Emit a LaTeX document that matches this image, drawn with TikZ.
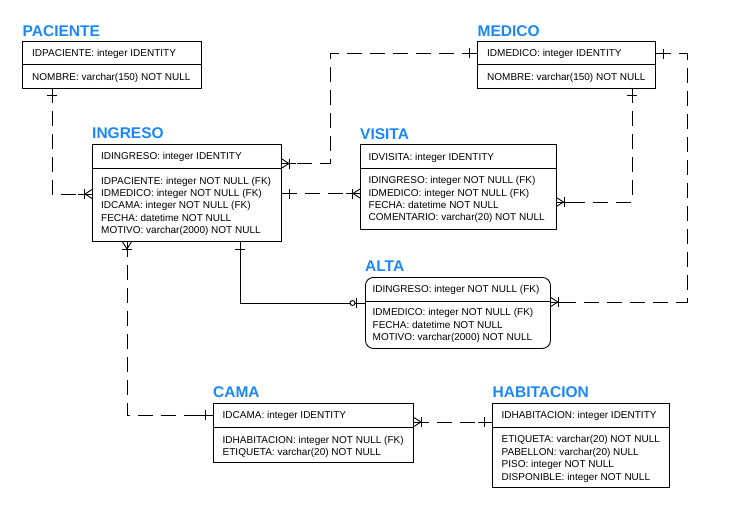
\documentclass[tikz,border=0pt]{standalone}
\usepackage{fontspec}
\setmainfont{Liberation Sans}
\usetikzlibrary{calc}
\definecolor{ttlblue}{RGB}{25,135,250}
\begin{document}
\begin{tikzpicture}[x=1pt,y=-1pt,
  ent/.style={draw, line width=0.9pt, anchor=north west, inner sep=0pt},
  sep/.style={line width=0.9pt},
  fld/.style={anchor=base west, inner sep=0pt, font=\fontsize{10}{12}\selectfont},
  ttl/.style={anchor=base west, inner sep=0pt, text=ttlblue, font=\bfseries\fontsize{15.5}{18}\selectfont},
  rel/.style={line width=0.9pt, dash pattern=on 15pt off 8pt},
  idrel/.style={line width=0.9pt},
  pics/one/.style={code={\draw[line width=0.9pt] (0,0) -- (14,0); \draw[line width=0.9pt] (7.5,-5) -- (7.5,5);}},
  pics/many/.style={code={\draw[line width=0.9pt] (0,0) -- (14,0); \draw[line width=0.9pt] (0,-4.5) -- (7,0) -- (0,4.5); \draw[line width=0.9pt] (8,-5) -- (8,5);}},
  pics/zeroone/.style={code={\draw[line width=0.9pt] (0,0) -- (16,0); \draw[line width=0.9pt] (9,-5) -- (9,5); \draw[line width=0.9pt, fill=white] (12.5,0) circle (2.5pt);}},
]
\useasboundingbox (0,0) rectangle (750,520);

% ---------- PACIENTE
\node[ttl] (tpac) at (22.5,36.7) {PACIENTE};
\node[ent, minimum width=179pt, minimum height=47pt] (pac) at (22,40.5) {};
\draw[sep] ($(pac.north west)+(0,23.5)$) -- ($(pac.north east)+(0,23.5)$);
\node[fld] (pac1) at (32,56.5) {IDPACIENTE: integer IDENTITY};
\node[fld] (pac2) at (32,80.5) {NOMBRE: varchar(150) NOT NULL};

% ---------- MEDICO
\node[ttl] (tmed) at (477.5,36.7) {MEDICO};
\node[ent, minimum width=178pt, minimum height=47pt] (med) at (477,40.5) {};
\draw[sep] ($(med.north west)+(0,23.5)$) -- ($(med.north east)+(0,23.5)$);
\node[fld] (med1) at (487,56.5) {IDMEDICO: integer IDENTITY};
\node[fld] (med2) at (487,80.5) {NOMBRE: varchar(150) NOT NULL};

% ---------- INGRESO
\node[ttl] (ting) at (92,138.4) {INGRESO};
\node[ent, minimum width=189pt, minimum height=97pt] (ing) at (92,144) {};
\draw[sep] ($(ing.north west)+(0,24)$) -- ($(ing.north east)+(0,24)$);
\node[fld] (ing1) at (101,159.8) {IDINGRESO: integer IDENTITY};
\node[fld] (ing2) at (101,184.3) {IDPACIENTE: integer NOT NULL (FK)};
\node[fld] (ing3) at (101,196.6) {IDMEDICO: integer NOT NULL (FK)};
\node[fld] (ing4) at (101,208.9) {IDCAMA: integer NOT NULL (FK)};
\node[fld] (ing5) at (101,221.2) {FECHA: datetime NOT NULL};
\node[fld] (ing6) at (101,233.5) {MOTIVO: varchar(2000) NOT NULL};

% ---------- VISITA
\node[ttl] (tvis) at (360,139.3) {VISITA};
\node[ent, minimum width=195.5pt, minimum height=85pt] (vis) at (360,144) {};
\draw[sep] ($(vis.north west)+(0,24)$) -- ($(vis.north east)+(0,24)$);
\node[fld] (vis1) at (368.5,160.2) {IDVISITA: integer IDENTITY};
\node[fld] (vis2) at (368.5,183.6) {IDINGRESO: integer NOT NULL (FK)};
\node[fld] (vis3) at (368.5,196.0) {IDMEDICO: integer NOT NULL (FK)};
\node[fld] (vis4) at (368.5,208.4) {FECHA: datetime NOT NULL};
\node[fld] (vis5) at (368.5,220.8) {COMENTARIO: varchar(20) NOT NULL};

% ---------- ALTA
\node[ttl] (talt) at (365,271.7) {ALTA};
\node[ent, rounded corners=8pt, minimum width=185pt, minimum height=71pt] (alt) at (365,277) {};
\draw[sep] ($(alt.north west)+(0,24)$) -- ($(alt.north east)+(0,24)$);
\node[fld] (alt1) at (372.5,292.8) {IDINGRESO: integer NOT NULL (FK)};
\node[fld] (alt2) at (372.5,315.8) {IDMEDICO: integer NOT NULL (FK)};
\node[fld] (alt3) at (372.5,328.2) {FECHA: datetime NOT NULL};
\node[fld] (alt4) at (372.5,340.6) {MOTIVO: varchar(2000) NOT NULL};

% ---------- CAMA
\node[ttl] (tcam) at (213,397.3) {CAMA};
\node[ent, minimum width=200pt, minimum height=59pt] (cam) at (213,403) {};
\draw[sep] ($(cam.north west)+(0,24)$) -- ($(cam.north east)+(0,24)$);
\node[fld] (cam1) at (222.5,418.5) {IDCAMA: integer IDENTITY};
\node[fld] (cam2) at (222.5,443.5) {IDHABITACION: integer NOT NULL (FK)};
\node[fld] (cam3) at (222.5,455.5) {ETIQUETA: varchar(20) NOT NULL};

% ---------- HABITACION
\node[ttl] (thab) at (492.5,397) {HABITACION};
\node[ent, minimum width=177pt, minimum height=84pt] (hab) at (492,403) {};
\draw[sep] ($(hab.north west)+(0,24)$) -- ($(hab.north east)+(0,24)$);
\node[fld] (hab1) at (501.5,418.5) {IDHABITACION: integer IDENTITY};
\node[fld] (hab2) at (501.5,442.8) {ETIQUETA: varchar(20) NOT NULL};
\node[fld] (hab3) at (501.5,455.2) {PABELLON: varchar(20) NULL};
\node[fld] (hab4) at (501.5,467.6) {PISO: integer NOT NULL};
\node[fld] (hab5) at (501.5,480.0) {DISPONIBLE: integer NOT NULL};

% ---------- connectors
% PACIENTE -> INGRESO
\coordinate (c1a) at ($(pac.south west)+(30,0)$);
\coordinate (c1b) at ($(ing.north west)+(0,50)$);
\draw[rel] (c1a) |- (c1b);
\pic[rotate=-90] at (c1a) {one};
\pic[rotate=180] at (c1b) {many};

% MEDICO -> INGRESO
\coordinate (c2a) at ($(med.north west)+(0,12.5)$);
\coordinate (c2b) at ($(ing.north east)+(0,19.5)$);
\coordinate (c2m) at (330,0);
\draw[rel] (c2a) -| (c2m |- c2b) -- (c2b);
\pic[rotate=180] at (c2a) {one};
\pic at (c2b) {many};

% INGRESO -> VISITA
\coordinate (c3a) at ($(ing.north east)+(0,49.5)$);
\coordinate (c3b) at (vis.west |- c3a);
\draw[rel] (c3a) -- (c3b);
\pic at (c3a) {one};
\pic[rotate=180] at (c3b) {many};

% MEDICO -> VISITA
\coordinate (c4a) at ($(med.south west)+(155,0)$);
\coordinate (c4b) at ($(vis.north east)+(0,58)$);
\draw[rel] (c4a) |- (c4b);
\pic[rotate=-90] at (c4a) {one};
\pic at (c4b) {many};

% MEDICO -> ALTA
\coordinate (c5a) at ($(med.north east)+(0,13)$);
\coordinate (c5b) at ($(alt.north east)+(0,25)$);
\coordinate (c5m) at (687,0);
\draw[rel] (c5a) -| (c5m |- c5b) -- (c5b);
\pic at (c5a) {one};
\pic at (c5b) {many};

% INGRESO -> CAMA
\coordinate (c6a) at ($(ing.south west)+(35,0)$);
\coordinate (c6b) at ($(cam.north west)+(0,12)$);
\draw[rel] (c6a) |- (c6b);
\pic[rotate=-90] at (c6a) {many};
\pic[rotate=180] at (c6b) {one};

% INGRESO -> ALTA (identifying)
\coordinate (c7a) at ($(ing.south west)+(148,0)$);
\coordinate (c7b) at ($(alt.north west)+(0,26)$);
\draw[idrel] (c7a) |- (c7b);
\pic[rotate=-90] at (c7a) {one};
\pic[rotate=180] at (c7b) {zeroone};

% CAMA -> HABITACION
\coordinate (c8a) at ($(cam.north east)+(0,19)$);
\coordinate (c8b) at (hab.west |- c8a);
\draw[rel] (c8a) -- (c8b);
\pic at (c8a) {many};
\pic[rotate=180] at (c8b) {one};
\end{tikzpicture}
\end{document}
